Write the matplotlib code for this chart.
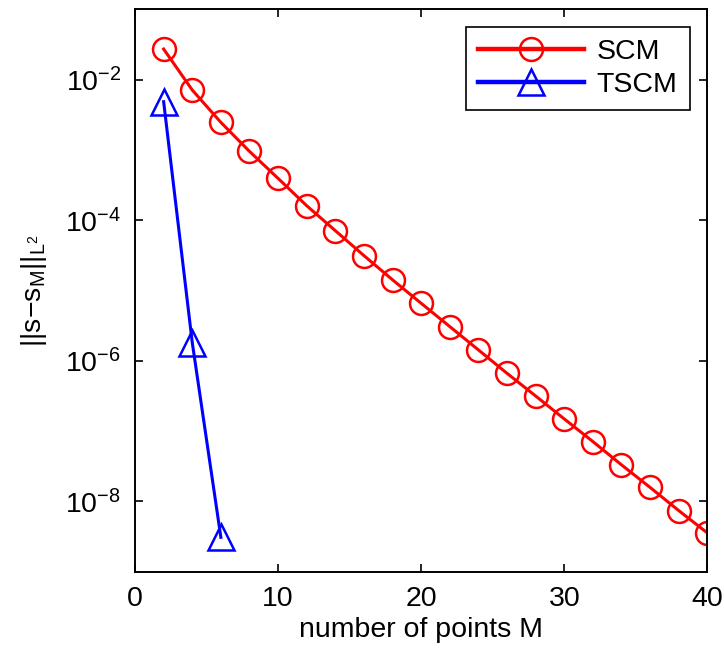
import numpy as np
import matplotlib
matplotlib.use("Agg")
import matplotlib.pyplot as plt
from matplotlib.ticker import FixedLocator, NullLocator

plt.rcParams['font.family'] = ['Liberation Sans', 'DejaVu Sans']
plt.rcParams['mathtext.fontset'] = 'custom'
plt.rcParams['mathtext.rm'] = 'Liberation Sans'
plt.rcParams['mathtext.it'] = 'Liberation Sans'
plt.rcParams['mathtext.default'] = 'regular'

# data
m_scm = [2, 4, 6, 8, 10, 12, 14, 16, 18, 20, 22, 24, 26, 28, 30, 32, 34, 36, 38, 40]
err_scm = [2.73e-2, 7.13e-3, 2.47e-3, 9.55e-4, 3.94e-4, 1.61e-4, 7.11e-5, 3.14e-5,
           1.42e-5, 6.58e-6, 3.07e-6, 1.43e-6, 6.64e-7, 3.16e-7, 1.49e-7, 7.10e-8,
           3.31e-8, 1.58e-8, 7.40e-9, 3.56e-9]
m_tscm = [2, 4, 6]
err_tscm = [4.86e-3, 1.82e-6, 3.08e-9]

x_ticks = [0, 10, 20, 30, 40]
y_ticks = [1e-8, 1e-6, 1e-4, 1e-2]
y_ticklabels = [r'$10^{-8}$', r'$10^{-6}$', r'$10^{-4}$', r'$10^{-2}$']

fig = plt.figure(figsize=(7.24, 6.5), dpi=100)
ax = fig.add_axes([0.1865, 0.1205, 0.7905, 0.865])

ax.semilogy(m_scm, err_scm, color='#ff0000', linewidth=2.2, marker='o',
            markersize=16.5, markerfacecolor='none', markeredgewidth=1.8, label='SCM')
ax.semilogy(m_tscm, err_tscm, color='#0000ff', linewidth=2.2, marker='^',
            markersize=19, markerfacecolor='none', markeredgewidth=1.8, label='TSCM')

ax.set_xlim(0, 40)
ax.set_ylim(1e-9, 1e-1)
ax.set_xticks(x_ticks)
ax.yaxis.set_major_locator(FixedLocator(y_ticks))
ax.yaxis.set_minor_locator(NullLocator())
ax.set_yticklabels(y_ticklabels)
ax.tick_params(which='both', direction='in', top=True, right=True, length=6,
               width=1.2, labelsize=20.5, pad=10)
for s in ax.spines.values():
    s.set_linewidth(1.4)

ax.set_xlabel('number of points M', fontsize=20.5, labelpad=4)
ax.set_ylabel(r'$||s{-}s_M||_{L^2}$', fontsize=20.5)
ax.yaxis.set_label_coords(-0.15, 0.5)

leg = ax.legend(loc='upper right', fontsize=20.5, handlelength=3.7, borderpad=0.45,
                labelspacing=0.22, handletextpad=0.45, fancybox=False, framealpha=1,
                borderaxespad=0.6)
leg.get_frame().set_edgecolor('black')
leg.get_frame().set_linewidth(1.2)
for line in leg.get_lines():
    line.set_linewidth(3.2)

plt.savefig('out.png', dpi=100)
